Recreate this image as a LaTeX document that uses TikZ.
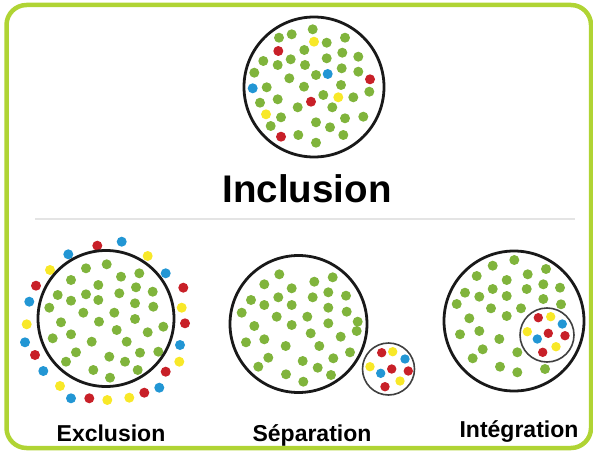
\documentclass[tikz,border=0pt]{standalone}
\usepackage{fontspec}
\setmainfont{Liberation Sans}
\definecolor{lime}{RGB}{176,212,52}
\definecolor{dotgreen}{RGB}{128,180,60}
\definecolor{dotred}{RGB}{200,32,40}
\definecolor{dotblue}{RGB}{34,150,212}
\definecolor{dotyellow}{RGB}{248,232,40}
\definecolor{rulegray}{RGB}{228,228,228}
\tikzset{
  gdot/.style={fill=dotgreen},
  rdot/.style={fill=dotred},
  bdot/.style={fill=dotblue},
  ydot/.style={fill=dotyellow},
  ring/.style={draw=black!90, line width=2.8pt},
  minring/.style={draw=black!75, line width=1.6pt},
  caption/.style={font=\bfseries\fontsize{23}{25}\selectfont, anchor=base, inner sep=0pt}
}
\begin{document}
\begin{tikzpicture}[x=1pt, y=-1pt]
    \useasboundingbox (0,0) rectangle (593,454);
    \draw [lime, line width=4.5pt, rounded corners=20pt] (6.5,5) rectangle (591,448); % frame

    \coordinate (inc) at (314,87);
    \coordinate (exc) at (106,318.5);
    \coordinate (sep) at (298.5,324);
    \coordinate (sepout) at (388.5,369);
    \coordinate (int) at (514,321);
    \coordinate (intin) at (547,335);

    % Inclusion
    \foreach \x/\y/\c in {312.7/29.3/g, 279/37.7/g, 291.7/34.3/g, 314/41.7/y, 326.7/42.7/g, 345/37.7/g,
        278.3/51/r, 304.3/50/g, 342.3/52.7/g, 358.3/56.7/g, 326.7/58.3/g, 263.3/61/g, 277.7/65/g,
        290.7/59.3/g, 305/65/g, 254.3/72.7/g, 289.3/78.3/g, 316/75/g, 327.7/74/b, 341.7/68.3/g,
        358.3/71.7/g, 370/79.3/r, 252.7/88.3/b, 266.7/87.3/g, 304/86.7/g, 341/85/g, 369.3/91.7/g,
        260/102.7/g, 277.7/99.3/g, 311/101.7/r, 323.3/95/g, 338.3/97.3/y, 353.3/97.3/g,
        266/114.3/y, 281/117.3/g, 297.7/107.3/g, 332.3/107.3/g, 363.3/116.7/g, 345/118.3/g,
        270.7/126/g, 316/122.3/g, 330/127.3/g, 281/136.7/r, 298.3/135/g, 343.3/135/g, 316/142.7/g}
        \fill [\c dot] (\x,\y) circle (5);
    \draw [ring] (inc) circle (70);
    \node [font=\bfseries\fontsize{38.5}{40}\selectfont, anchor=base, inner sep=0pt] (inclusion) at (307,203) {Inclusion};
    \draw [rulegray, line width=1.8pt] (35,219) -- (575,219);

    % Exclusion
    \foreach \x/\y in {106.7/264.3, 86/268.3, 71/280, 121/276.7, 139.3/273.3, 98.3/285, 57.7/295,
        71/300.7, 86/294.3, 98.3/300, 119.3/293.3, 136/287.3, 152.7/291.7, 49.3/307.7, 83.3/312.7,
        114.3/312.7, 135/303.3, 153.3/306.7, 61/322.3, 99/321.7, 135/319, 163.3/326.7, 71/334.3,
        116.7/330, 147.7/332.3, 52.7/338.3, 91.7/341.7, 126.7/341.7, 76/352.3, 109.3/356.7,
        140/352.7, 158.3/351.7, 66/361.7, 125/361.7, 93.3/370, 137.7/370, 110/377.7}
        \fill [gdot] (\x,\y) circle (5);
    \foreach \x/\y/\c in {97.3/245.7/r, 121.7/241.7/b, 68.3/254.3/b, 147.7/256/y, 50/270/y,
        165.7/273.3/b, 36/285.7/r, 183.3/287.7/r, 29.3/301.7/b, 181.7/307.7/y, 26.7/324.3/y,
        185/323.3/r, 25/342.3/b, 180/345/b, 35/355/r, 179.3/361.7/y, 43.3/371/b, 165.7/371.7/r,
        60/386/y, 159.3/387.7/b, 71/398.3/b, 89.3/398.3/r, 107.3/400/y, 129.3/397.7/y, 144.3/392.7/r}
        \fill [\c dot] (\x,\y) circle (5);
    \draw [ring] (exc) circle (68);
    \node [caption] (exclusion) at (111,441) {Exclusion};

    % Separation
    \foreach \x/\y in {279.3/274.3, 264.3/284.3, 314.3/281.7, 332.7/277.3, 291.7/288.3, 328.3/292.3,
        346/295.7, 251/300, 264.3/305, 278.3/297.3, 291.7/305, 312.7/297.3, 328.3/307.7, 346.7/311.7,
        241.7/312.7, 276.7/316.7, 307.3/316.7, 357.7/321.7, 254.3/326, 291.7/325, 328.3/323.3,
        356.7/331, 310.7/333.3, 340.7/336.7, 246/342.3, 264.3/339.3, 285.7/346, 319.3/346, 350/352.3,
        268.3/357.7, 333.3/358.3, 258.3/366.7, 302.7/361, 317.7/367.7, 286/374.3, 331/375, 303.3/381.7}
        \fill [gdot] (\x,\y) circle (5);
    \draw [ring] (sep) circle (68.5);
    \foreach \x/\y/\c in {381.7/352.7/r, 392.7/351.7/y, 405/359/b, 370/366.7/y, 391.7/369/r,
        408.3/371/r, 380.7/373.3/b, 400/381/y, 385/386.7/r}
        \fill [\c dot] (\x,\y) circle (4.7);
    \draw [minring] (sepout) circle (26);
    \node [caption] (separation) at (312,441) {Séparation};

    % Integration
    \foreach \x/\y in {514.3/260, 492.7/265.7, 546/269, 476.7/276, 527.7/274.3, 506.7/280, 465/292.7,
        492.7/289, 526.7/289, 543.3/284.3, 560/287.7, 479.3/296.7, 506.7/296, 456.7/304, 543.3/299,
        561/304.3, 491/308.3, 521/308.3, 469.3/318.3, 506.7/316, 460/334.3, 479.3/331, 499.3/339,
        482.7/349.3, 472.7/358.3, 517.3/352.3, 500/366.7, 517.3/372.3, 545/369}
        \fill [gdot] (\x,\y) circle (5);
    \foreach \x/\y/\c in {538.3/317.7/r, 550.7/316.7/y, 562.3/324/b, 527.3/331.7/y, 548.3/333.3/r,
        565/335.7/r, 537.3/339/b, 556/346.7/y, 542.7/352.3/r}
        \fill [\c dot] (\x,\y) circle (4.7);
    \draw [minring] (intin) circle (27);
    \draw [ring] (int) circle (70);
    \node [caption] (integration) at (519,437) {Intégration};
\end{tikzpicture}
\end{document}
